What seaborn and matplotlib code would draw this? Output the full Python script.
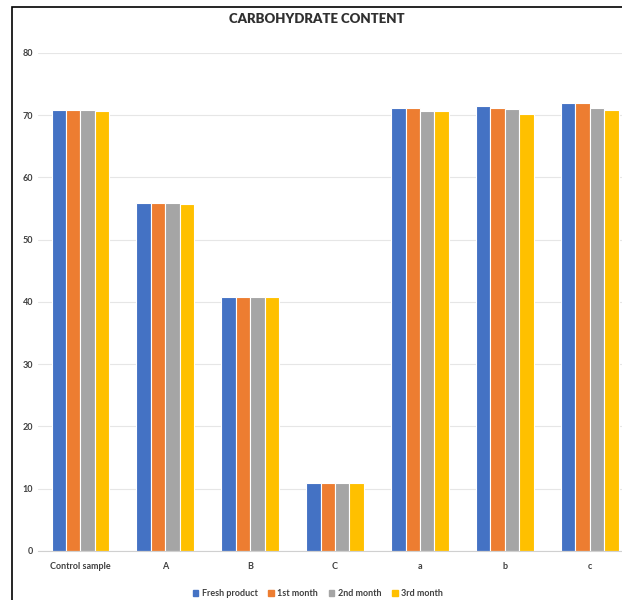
import pandas as pd
import numpy as np
import matplotlib.pyplot as plt
import seaborn as sns
from matplotlib.patches import Rectangle

samples = ['Control sample', 'A', 'B', 'C', 'a', 'b', 'c']
periods = ['Fresh product', '1st month', '2nd month', '3rd month']
fresh = [70.8, 55.9, 40.8, 10.9, 71.1, 71.4, 72.0]
month1 = [70.8, 55.9, 40.8, 10.9, 71.1, 71.1, 71.9]
month2 = [70.8, 55.8, 40.8, 10.9, 70.7, 70.9, 71.1]
month3 = [70.6, 55.7, 40.8, 10.9, 70.6, 70.1, 70.8]
colors = ['#4472C4', '#ED7D31', '#A5A5A5', '#FFC000']

df = pd.DataFrame({'sample': samples * 4,
                   'period': np.repeat(periods, len(samples)),
                   'value': fresh + month1 + month2 + month3})

sns.set_style('white')
plt.rcParams['font.family'] = ['Lato', 'DejaVu Sans']

fig = plt.figure(figsize=(6.22, 6.0), dpi=100)
ax = fig.add_axes([0.061, 0.082, 0.939, 0.830])
sns.barplot(data=df, x='sample', y='value', hue='period', palette=colors,
            saturation=1, width=0.68, edgecolor='white', linewidth=0.8, ax=ax)

ax.set_ylim(0, 80)
ax.set_xlim(-0.5, 6.38)
ax.set_yticks(range(0, 81, 10))
ax.yaxis.grid(True, color='#E6E6E6', linewidth=0.8)
ax.set_axisbelow(True)
for s in ['top', 'right', 'left']:
    ax.spines[s].set_visible(False)
ax.spines['bottom'].set_color('#D0D0D0')
ax.tick_params(axis='both', length=0, labelsize=6.5, colors='#404040')
ax.tick_params(axis='x', pad=8)
ax.set_xlabel('')
ax.set_ylabel('')
for lab in ax.get_xticklabels() + ax.get_yticklabels():
    lab.set_fontweight('bold')

fig.text(0.51, 0.969, 'CARBOHYDRATE CONTENT', ha='center', va='center',
         fontsize=9.5, fontweight='heavy', color='#303030')

handles = [Rectangle((0, 0), 1, 1, color=c) for c in colors]
leg = ax.legend(handles, periods, loc='center', bbox_to_anchor=(0.511, 0.01),
                bbox_transform=fig.transFigure, ncol=4, frameon=False,
                fontsize=6.5, handlelength=0.6, handleheight=0.6,
                handletextpad=0.4, columnspacing=1.2)
for t in leg.get_texts():
    t.set_fontweight('bold')
    t.set_color('#404040')

fig.patches.append(Rectangle((0.0195, -0.01), 1.0, 0.999, transform=fig.transFigure,
                             fill=False, edgecolor='black', linewidth=1.2))

fig.savefig('out.png', dpi=100)
